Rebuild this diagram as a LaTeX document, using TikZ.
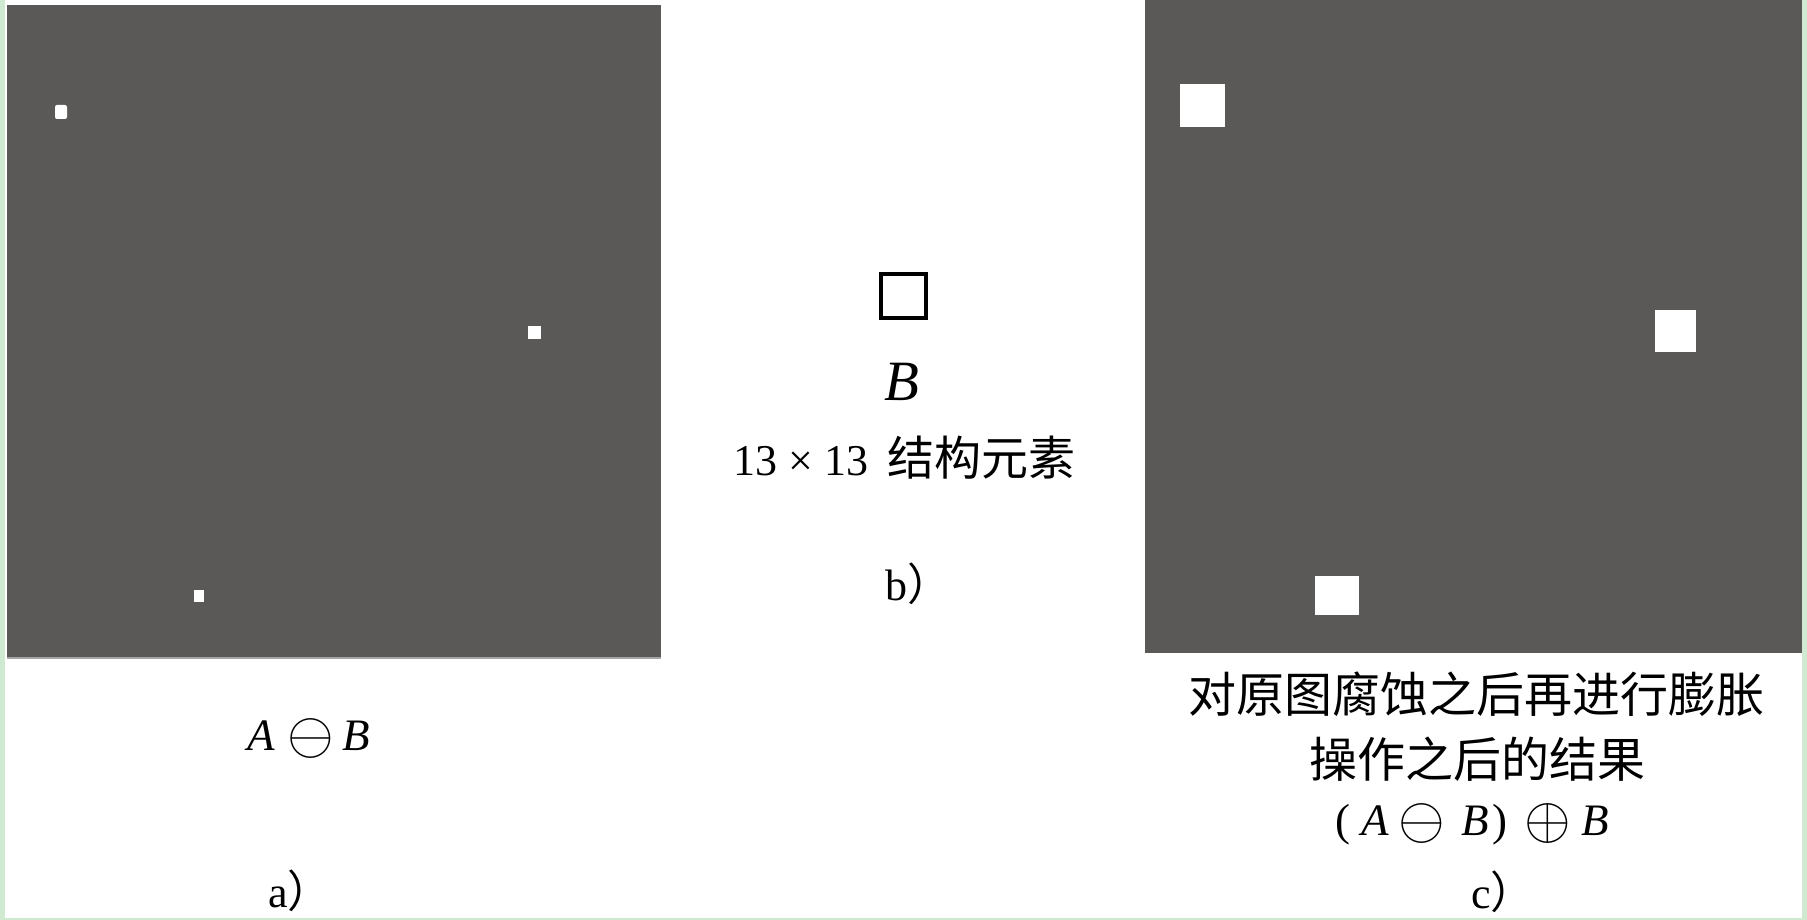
\documentclass[tikz,border=0pt]{standalone}
\usepackage{graphicx}
\usepackage{fontspec}
\setmainfont{Liberation Serif}
\newfontfamily\cjk{Noto Sans CJK SC}
\definecolor{panel}{RGB}{90,89,87}
\definecolor{edgegreen}{RGB}{208,234,210}
\newcommand{\myominus}{{\fontsize{10}{10}\selectfont\raisebox{-3pt}{\scalebox{6}{$\ominus$}}}}
\newcommand{\myoplus}{{\fontsize{10}{10}\selectfont\raisebox{-3pt}{\scalebox{6}{$\oplus$}}}}
\begin{document}
\begin{tikzpicture}[x=1pt,y=-1pt,
  txt/.style={inner sep=0pt, anchor=base west, font=\fontsize{45}{45}\selectfont},
  cjktxt/.style={inner sep=0pt, anchor=base west, font=\cjk\fontsize{48}{48}\selectfont},
  dot/.style={fill=white},
  panelbox/.style={fill=panel}]
\useasboundingbox (0,0) rectangle (1807,920);
\fill[white] (0,0) rectangle (1807,920);
\fill[edgegreen] (0,0) rectangle (5,920);
\fill[edgegreen] (1802,0) rectangle (1807,920);
\fill[edgegreen] (0,918) rectangle (1807,920);
% panel a
\fill[panelbox] (7,5) rectangle (661,659);
\fill[gray!70] (7,657) rectangle (661,659);
\fill[dot, rounded corners=2pt] (55,105) rectangle (67,119);
\fill[dot] (528,326) rectangle (541,339);
\fill[dot] (194,590) rectangle (204,602);
% panel c
\fill[panelbox] (1145,0) rectangle (1802,653);
\fill[dot] (1180,84) rectangle (1225,127);
\fill[dot] (1655,310) rectangle (1696,352);
\fill[dot] (1315,576) rectangle (1359,615);
% panel b
\draw[line width=4pt] (880.7,273.7) rectangle (925.7,318);
\node[txt, font=\fontsize{57}{57}\selectfont] (bB) at (884,400) {\textit{B}};
\node[txt, font=\fontsize{44}{44}\selectfont] (bsize) at (733,475) {13 × 13\hspace{8pt} {\cjk\fontsize{47}{47}\selectfont 结构元素}};
\node[txt, font=\fontsize{44}{44}\selectfont] (blab) at (885,600) {b{\cjk ）}};
% labels a
\node[txt] (aexpr) at (247,750) {\textit{A}\hspace{13pt}\myominus\hspace{8pt}\textit{B}};
\node[txt, font=\fontsize{44}{44}\selectfont] (alab) at (268,907) {a{\cjk ）}};
% labels c
\node[cjktxt] (cl1) at (1188,712) {对原图腐蚀之后再进行膨胀};
\node[cjktxt] (cl2) at (1309,777) {操作之后的结果};
\node[txt] (cl3) at (1335,835) {(\hspace{11pt}\textit{A}\hspace{10pt}\myominus\hspace{16pt}\textit{B}\hspace{4pt})\hspace{17pt}\myoplus\hspace{10pt}\textit{B}};
\node[txt, font=\fontsize{44}{44}\selectfont] (clab) at (1471,908) {c{\cjk ）}};
\end{tikzpicture}
\end{document}
